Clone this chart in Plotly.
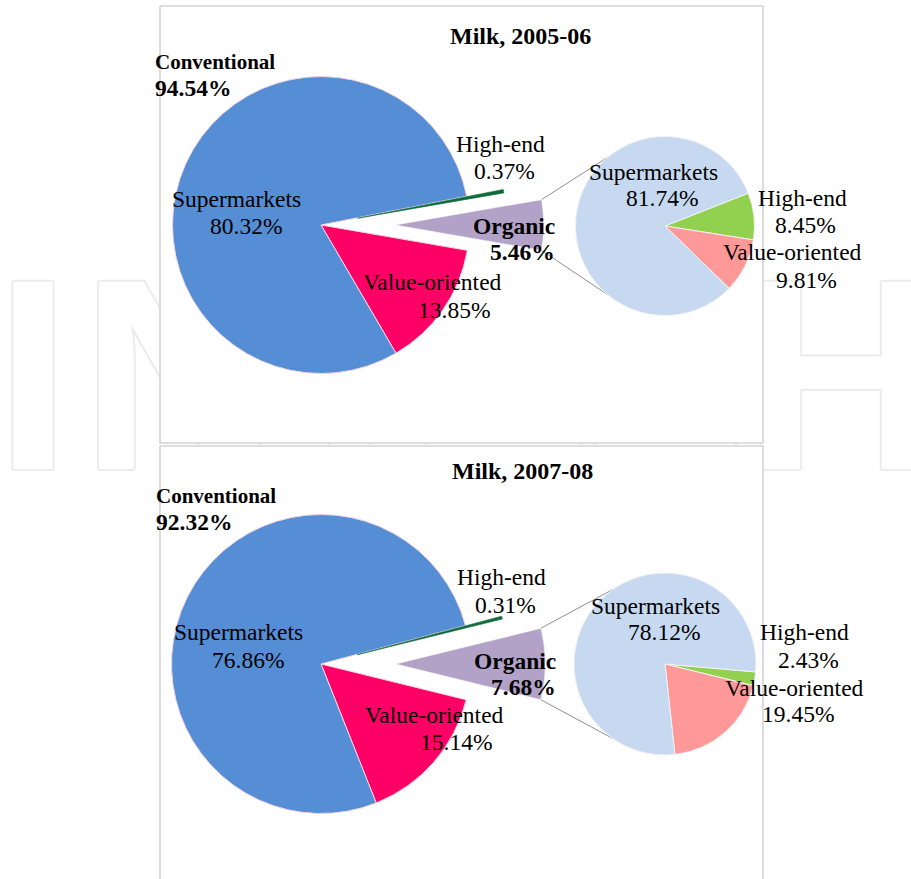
import math
import plotly.graph_objects as go

W, H = 911, 879

# ---------------- data ----------------
panel_titles = ["Milk, 2005-06", "Milk, 2007-08"]
group_names = ["Conventional", "Organic"]
conventional_share = [94.54, 92.32]
organic_share = [5.46, 7.68]
channel_names = ["Supermarkets", "Value-oriented", "High-end"]
conv_supermarkets = [80.32, 76.86]
conv_value = [13.85, 15.14]
conv_highend = [0.37, 0.31]
org_supermarkets = [81.74, 78.12]
org_value = [9.81, 19.45]
org_highend = [8.45, 2.43]
watermark_letters = ["I", "N", "T", "E", "C", "H"]

# ---------------- style / layout constants ----------------
SERIF = "Liberation Serif"
FS = 23.5
FS_TITLE = 24
FS_CONV = 21
C_SUPER = "#558ED5"
C_VALUE = "#FF0066"
C_HIGH = "#0E6B3A"
C_ORG = "#B3A2C7"
C2_SUPER = "#C6D9F1"
C2_VALUE = "#FF9999"
C2_HIGH = "#92D050"
TRANSPARENT = "rgba(0,0,0,0)"
ORGANIC_PULL = 0.5
HIGHEND_PULL = 0.25
PANEL_X = (160, 763)

geo = [
    dict(main_c=(321, 225), main_r=148.5, sec_c=(665, 226), sec_r=89.5,
         sec_rot=68.5, conn_ang=130, top=6, bottom=443),
    dict(main_c=(321, 664), main_r=149.5, sec_c=(665, 664), sec_r=91,
         sec_rot=95, conn_ang=125, top=446, bottom=890),
]

# label positions: key -> (x, y_center, xanchor)
label_pos = [
    {
        "title": (520, 35.6, "center"),
        "conv": (153, 62.3, "left"), "conv_p": (153, 88.0, "left"),
        "m_super": (236.7, 199.0, "center"), "m_super_p": (245.5, 226.0, "center"),
        "m_high": (500.0, 144.0, "center"), "m_high_p": (504.0, 170.6, "center"),
        "org": (557.0, 225.6, "right"), "org_p": (557.0, 252.3, "right"),
        "m_value": (432.5, 282.3, "center"), "m_value_p": (453.7, 309.6, "center"),
        "s_super": (653.3, 171.6, "center"), "s_super_p": (661.7, 198.3, "center"),
        "s_high": (802.5, 198.3, "center"), "s_high_p": (805.8, 225.0, "center"),
        "s_value": (792.5, 251.6, "center"), "s_value_p": (806.7, 279.6, "center"),
    },
    {
        "title": (522, 470.6, "center"),
        "conv": (154, 495.6, "left"), "conv_p": (154, 521.6, "left"),
        "m_super": (238.5, 632.3, "center"), "m_super_p": (247.9, 660.0, "center"),
        "m_high": (501.7, 577.3, "center"), "m_high_p": (505.8, 604.6, "center"),
        "org": (558.3, 660.6, "right"), "org_p": (558.3, 687.3, "right"),
        "m_value": (434.2, 714.6, "center"), "m_value_p": (455.8, 742.3, "center"),
        "s_super": (655.0, 605.6, "center"), "s_super_p": (664.2, 632.3, "center"),
        "s_high": (804.2, 632.3, "center"), "s_high_p": (808.3, 659.6, "center"),
        "s_value": (794.2, 688.3, "center"), "s_value_p": (797.5, 714.0, "center"),
    },
]

watermark_x = [33, 179, 350, 500, 660, 841]
watermark_y = 401
WM = "#ececec"


def dom(cx, cy, half):
    return dict(x=[(cx - half) / W, (cx + half) / W],
                y=[1 - (cy + half) / H, 1 - (cy - half) / H])


fig = go.Figure()

# watermark (behind the white panels)
fig.add_trace(go.Scatter(
    x=watermark_x, y=[watermark_y] * len(watermark_letters),
    mode="text", text=watermark_letters, textposition="middle center",
    textfont=dict(family="Liberation Sans", size=272, color="white", weight="bold",
                  shadow=(f"2px 0 0 {WM}, -2px 0 0 {WM}, 0 2px 0 {WM}, 0 -2px 0 {WM}, "
                          f"1.5px 1.5px 0 {WM}, -1.5px -1.5px 0 {WM}, "
                          f"1.5px -1.5px 0 {WM}, -1.5px 1.5px 0 {WM}")),
    hoverinfo="skip", showlegend=False, cliponaxis=False))

# white panels with light grey frame
for g in geo:
    x0, x1 = PANEL_X
    fig.add_trace(go.Scatter(
        x=[x0, x1, x1, x0, x0], y=[g["top"], g["top"], g["bottom"], g["bottom"], g["top"]],
        mode="lines", fill="toself", fillcolor="white",
        line=dict(color="#d4d4d4", width=1.6),
        hoverinfo="skip", showlegend=False))

annotations = []
for i, g in enumerate(geo):
    cx, cy = g["main_c"]
    r = g["main_r"]
    org_deg = organic_share[i] * 3.6
    rot = 90 - org_deg / 2  # organic slice centred at 3 o'clock
    main_labels = ["Organic", "Value-oriented", "Supermarkets", "High-end"]
    main_vals = [organic_share[i], conv_value[i], conv_supermarkets[i], conv_highend[i]]

    # main pie (organic slice drawn separately, pulled out)
    fig.add_trace(go.Pie(
        labels=main_labels, values=main_vals, sort=False, direction="clockwise",
        rotation=rot, pull=[0, 0, 0, HIGHEND_PULL],
        marker=dict(colors=[TRANSPARENT, C_VALUE, C_SUPER, C_HIGH],
                    line=dict(color=[TRANSPARENT, "#f4d6e2", "#f4d6e2", C_HIGH],
                              width=[0, 1, 1, 0.6])),
        textinfo="none", hoverinfo="label+percent", showlegend=False,
        domain=dom(cx, cy, r * (1 + HIGHEND_PULL))))

    # exploded organic wedge
    mid = math.radians(0.0)
    ox = cx + ORGANIC_PULL * r * math.cos(mid)
    oy = cy - ORGANIC_PULL * r * math.sin(mid)
    fig.add_trace(go.Pie(
        labels=main_labels, values=main_vals, sort=False, direction="clockwise",
        rotation=rot,
        marker=dict(colors=[C_ORG, TRANSPARENT, TRANSPARENT, TRANSPARENT],
                    line=dict(color=["white", TRANSPARENT, TRANSPARENT, TRANSPARENT],
                              width=[0.5, 0, 0, 0])),
        textinfo="none", hoverinfo="label+percent", showlegend=False,
        domain=dom(ox, oy, r)))

    # connector lines from the organic wedge to the secondary pie
    half = math.radians(org_deg / 2)
    sx, sy = g["sec_c"]
    sr = g["sec_r"]
    ca = math.radians(g["conn_ang"])
    xs, ys = [], []
    for sgn in (1, -1):
        xs += [ox + r * math.cos(sgn * half), sx + sr * math.cos(sgn * ca), None]
        ys += [oy - r * math.sin(sgn * half), sy - sr * math.sin(sgn * ca), None]
    fig.add_trace(go.Scatter(x=xs, y=ys, mode="lines",
                             line=dict(color="#8f8f8f", width=1),
                             hoverinfo="skip", showlegend=False))

    # secondary pie (organic breakdown)
    fig.add_trace(go.Pie(
        labels=["High-end", "Value-oriented", "Supermarkets"],
        values=[org_highend[i], org_value[i], org_supermarkets[i]],
        sort=False, direction="clockwise", rotation=g["sec_rot"],
        marker=dict(colors=[C2_HIGH, C2_VALUE, C2_SUPER],
                    line=dict(color="#f2f2f2", width=1)),
        textinfo="none", hoverinfo="label+percent", showlegend=False,
        domain=dom(sx, sy, sr)))

    # text labels
    P = label_pos[i]
    texts = {
        "title": (panel_titles[i], True, FS_TITLE),
        "conv": (group_names[0], True, FS_CONV),
        "conv_p": (f"{conventional_share[i]:.2f}%", True, FS),
        "org": (group_names[1], True, FS), "org_p": (f"{organic_share[i]:.2f}%", True, FS),
        "m_super": (channel_names[0], False, FS),
        "m_super_p": (f"{conv_supermarkets[i]:.2f}%", False, FS),
        "m_value": (channel_names[1], False, FS),
        "m_value_p": (f"{conv_value[i]:.2f}%", False, FS),
        "m_high": (channel_names[2], False, FS),
        "m_high_p": (f"{conv_highend[i]:.2f}%", False, FS),
        "s_super": (channel_names[0], False, FS),
        "s_super_p": (f"{org_supermarkets[i]:.2f}%", False, FS),
        "s_value": (channel_names[1], False, FS),
        "s_value_p": (f"{org_value[i]:.2f}%", False, FS),
        "s_high": (channel_names[2], False, FS),
        "s_high_p": (f"{org_highend[i]:.2f}%", False, FS),
    }
    for key, (txt, bold, size) in texts.items():
        x, y, xa = P[key]
        annotations.append(dict(
            x=x, y=y, xref="x", yref="y", xanchor=xa, yanchor="middle",
            text=f"<b>{txt}</b>" if bold else txt, showarrow=False,
            font=dict(family=SERIF, size=size, color="black")))

fig.update_layout(
    width=W, height=H, margin=dict(l=0, r=0, t=0, b=0),
    paper_bgcolor="white", plot_bgcolor="white",
    xaxis=dict(range=[0, W], visible=False, fixedrange=True),
    yaxis=dict(range=[H, 0], visible=False, fixedrange=True),
    annotations=annotations, showlegend=False)

fig.write_html(
    "out.html",
    config={"displayModeBar": False},
    post_script="document.body.style.margin='0px';document.body.style.overflow='hidden';")
